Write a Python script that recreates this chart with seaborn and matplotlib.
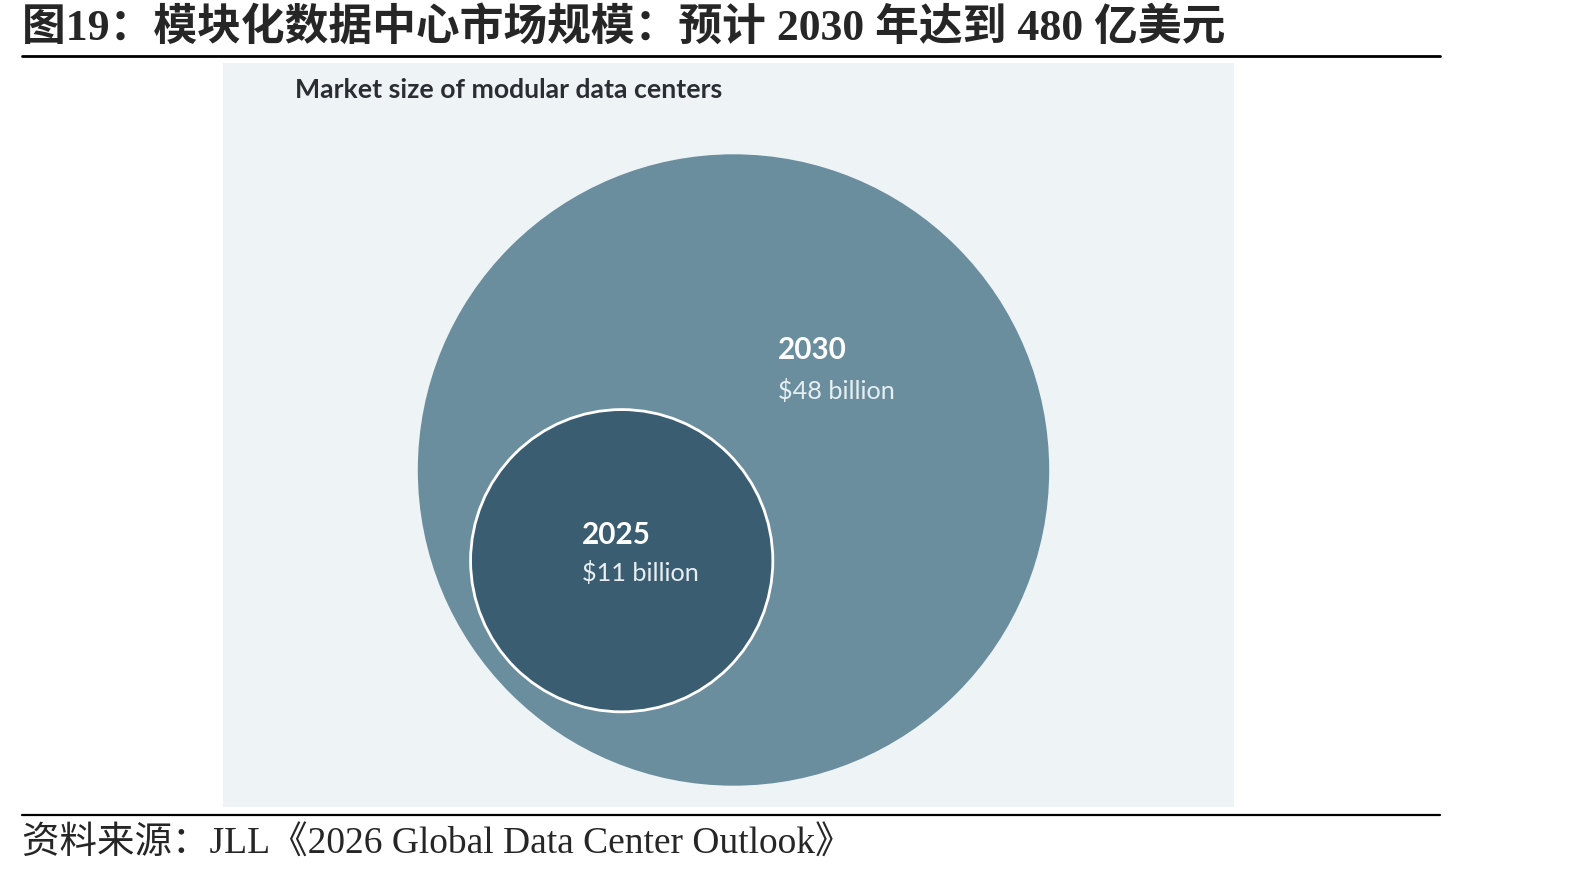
import numpy as np
import matplotlib
matplotlib.use("Agg")
import matplotlib.pyplot as plt
from matplotlib.patches import Circle
from matplotlib.lines import Line2D
import seaborn as sns

# ---- data ----
years = ["2030", "2025"]
values = [48, 11]              # USD billion
value_labels = ["$48 billion", "$11 billion"]

title = "图19：模块化数据中心市场规模：预计 2030 年达到 480 亿美元"
subtitle = "Market size of modular data centers"
source = "资料来源：JLL《2026 Global Data Center Outlook》"

sns.set_theme(style="white")
plt.rcParams['font.family'] = ['Lato', 'DejaVu Sans']

W, H = 1594, 875
fig = plt.figure(figsize=(W / 100, H / 100), dpi=100)
fig.patch.set_facecolor("white")

def fx(x):
    return x / W

def fy(y):
    return 1 - y / H

# panel axes (pixel-based data units)
pl, pr, pt, pb = 223, 1234, 63, 807
ax = fig.add_axes([fx(pl), fy(pb), (pr - pl) / W, (pb - pt) / H])
ax.set_facecolor("#EEF3F6")
ax.set_xlim(0, pr - pl)
ax.set_ylim(0, pb - pt)
ax.set_aspect("equal")
ax.set_xticks([])
ax.set_yticks([])
for s in ax.spines.values():
    s.set_visible(False)

# circle area proportional to value
k = 315.7 / np.sqrt(max(values))
radii = [k * np.sqrt(v) for v in values]
big_c = (733.5 - pl, pb - 470)
small_c = (621.7 - pl, pb - 560.7)
colors = ["#6A8E9E", "#3B5D72"]
ax.add_patch(Circle(big_c, radii[0], facecolor=colors[0], edgecolor="none"))
ax.add_patch(Circle(small_c, radii[1], facecolor=colors[1], edgecolor="white", linewidth=2))

# labels
lab_pos = [(777.7, 350, 390.5), (581.5, 535, 572.5)]
for (x, y1, y2), yr, vl in zip(lab_pos, years, value_labels):
    fig.text(fx(x), fy(y1), yr, color="white", fontsize=21.3, fontweight="bold",
             ha="left", va="center")
    fig.text(fx(x), fy(y2), vl, color="#E6EEF1", fontsize=18.2,
             ha="left", va="center")

fig.text(fx(294.8), fy(90.5), subtitle, color="#2A2E33", fontsize=19.2,
         fontweight="bold", ha="left", va="center")

# title and rules
fig.text(fx(22), fy(27.5), title, fontsize=31.5, fontweight="bold", ha="left", va="center",
         family=['Liberation Serif', 'Noto Sans CJK SC'])
fig.add_artist(Line2D([fx(22), fx(1440)], [fy(55.5), fy(55.5)], color="black", linewidth=2.0))
fig.add_artist(Line2D([fx(22), fx(1440)], [fy(815), fy(815)], color="black", linewidth=1.6))
fig.text(fx(22), fy(843), source, fontsize=27, ha="left", va="center",
         family=['Liberation Serif', 'Noto Sans CJK SC'])

fig.savefig("out.png", dpi=100, facecolor="white")
